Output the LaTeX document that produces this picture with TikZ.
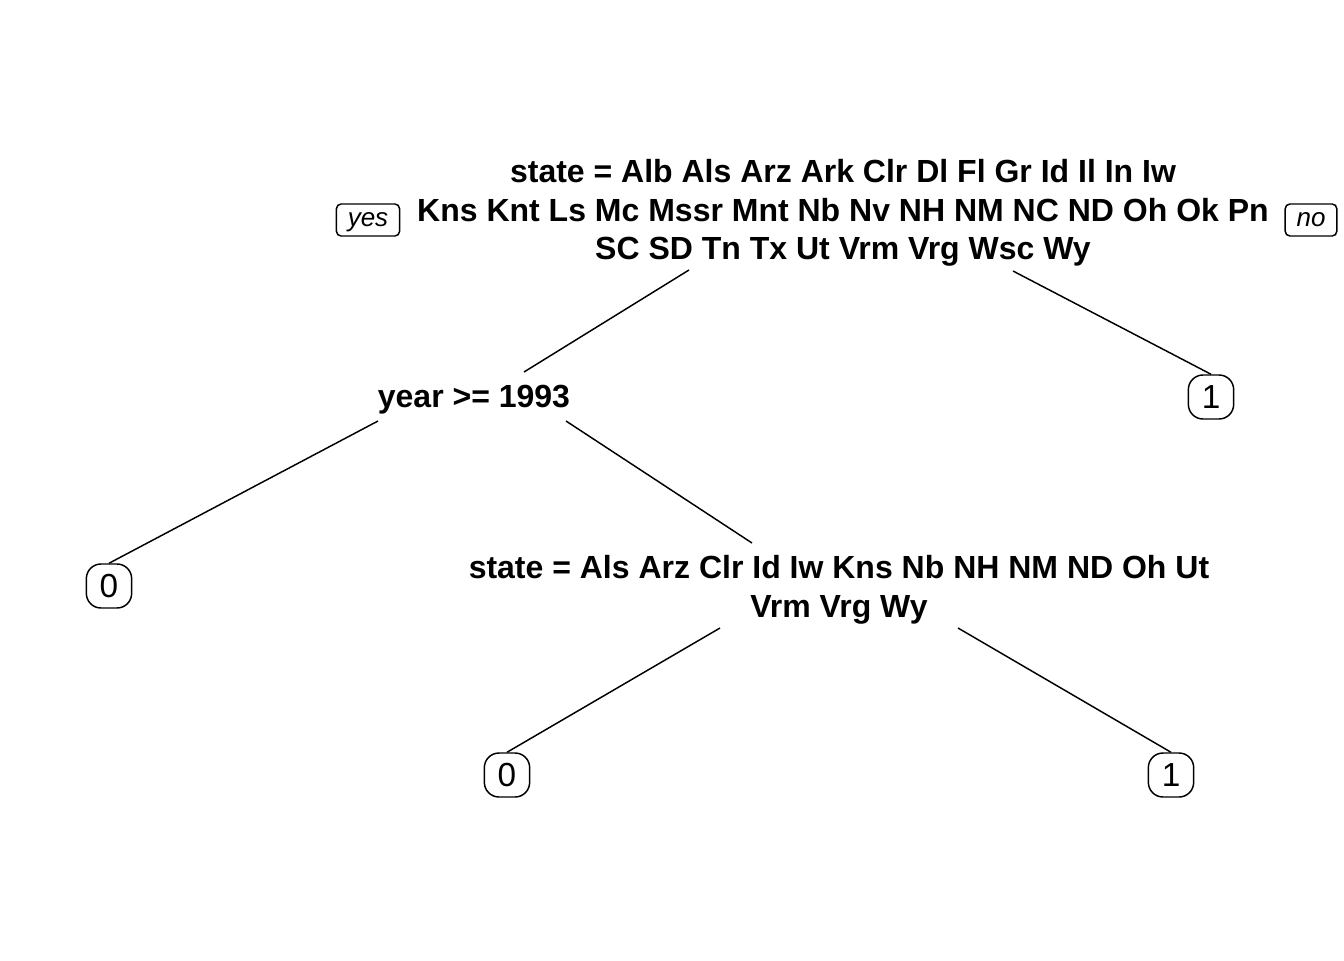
\documentclass[tikz,border=0pt]{standalone}
\usepackage{fontspec}
\setmainfont{Liberation Sans}
\usetikzlibrary{calc}

\begin{document}
\begin{tikzpicture}[-, x=0.75pt, y=-0.75pt, line width=1.1pt]

\tikzstyle{split}=[
    font=\fontsize{24}{29}\selectfont\bfseries,
    align=center,
    inner sep=0pt
]
\tikzstyle{leaf}=[
    draw,
    rounded corners=11pt,
    font=\fontsize{25}{28}\selectfont,
    minimum width=34pt,
    minimum height=33pt,
    inner sep=0pt
]
\tikzstyle{yesno}=[
    draw,
    rounded corners=3.5pt,
    font=\fontsize{19.5}{22}\selectfont\itshape,
    minimum height=24pt,
    text depth=0pt,
    inner xsep=8.5pt,
    inner ysep=0pt
]

\useasboundingbox (0,0) rectangle (1344,960);

\node[split] (N_1) at (843,213) {state = Alb Als Arz Ark Clr Dl Fl Gr Id Il In Iw\\
    Kns Knt Ls Mc Mssr Mnt Nb Nv NH NM NC ND Oh Ok Pn\\
    SC SD Tn Tx Ut Vrm Vrg Wsc Wy};
\node[split, anchor=base] (N_2) at (474,407) {year >= 1993};
\node[split] (N_3) at (839,590) {state = Als Arz Clr Id Iw Kns Nb NH NM ND Oh Ut\\
    Vrm Vrg Wy};

\node[yesno] (Yes) at (368,220) {yes};
\node[yesno] (No) at (1311,220) {no};

\node[leaf] (L_1) at (1211,397) {1};
\node[leaf] (L_2) at (109,586) {0};
\node[leaf] (L_3) at (507,775) {0};
\node[leaf] (L_4) at (1171,775) {1};

\path
($(N_1)+(-154,57)$) edge ($(N_2.base)+(50,-35)$)
($(N_1)+(170,58)$) edge (L_1.north)
($(N_2.base)+(-96,14)$) edge (L_2.north)
($(N_2.base)+(92,14)$) edge ($(N_3)+(-87,-47)$)
($(N_3)+(-119,38)$) edge (L_3.north)
($(N_3)+(119,38)$) edge (L_4.north);

\end{tikzpicture}
\end{document}
